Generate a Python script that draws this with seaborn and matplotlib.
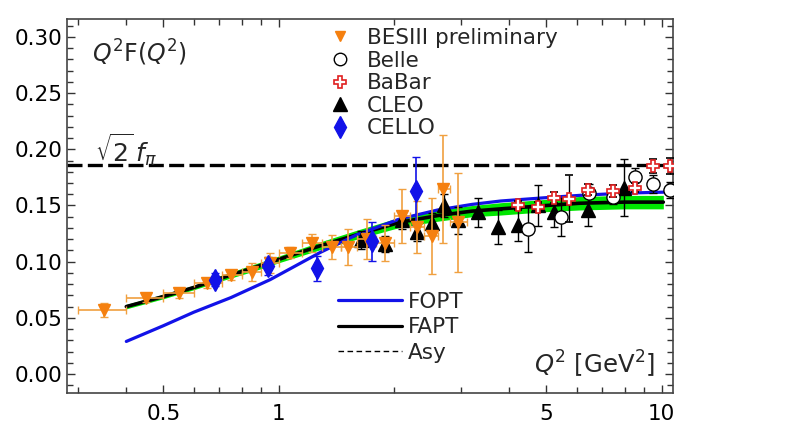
import matplotlib
matplotlib.use('Agg')
import matplotlib.pyplot as plt
from matplotlib.lines import Line2D
from matplotlib.ticker import MultipleLocator, FormatStrFormatter, NullFormatter
import numpy as np
import pandas as pd
import seaborn as sns

'''
Data read off the reference picture
'''
# BESIII preliminary
bes_q = [0.35, 0.45, 0.55, 0.65, 0.75, 0.85, 0.95, 1.07, 1.22, 1.38, 1.52, 1.70, 1.90, 2.10, 2.30, 2.51, 2.69, 2.94]
bes_y = [0.057, 0.068, 0.072, 0.081, 0.088, 0.091, 0.099, 0.108, 0.117, 0.113, 0.113, 0.120, 0.117, 0.141, 0.131, 0.123, 0.165, 0.135]
bes_err = [0.006, 0.004, 0.004, 0.004, 0.004, 0.008, 0.009, 0.005, 0.008, 0.011, 0.016, 0.018, 0.016, 0.024, 0.023, 0.034, 0.048, 0.044]
bes_qlo = [0.30, 0.40, 0.50, 0.60, 0.71, 0.80, 0.90, 1.00, 1.15, 1.30, 1.45, 1.60, 1.80, 2.00, 2.20, 2.40, 2.60, 2.80]
bes_qhi = [0.40, 0.50, 0.60, 0.71, 0.80, 0.90, 1.00, 1.15, 1.30, 1.45, 1.60, 1.80, 2.00, 2.20, 2.40, 2.60, 2.80, 3.10]

# Belle
belle_q = [4.49, 5.47, 6.47, 7.48, 8.50, 9.47, 10.5]
belle_y = [0.129, 0.140, 0.161, 0.158, 0.175, 0.169, 0.164]
belle_err = [0.020, 0.017, 0.008, 0.007, 0.008, 0.008, 0.007]

# BaBar
babar_q = [4.22, 4.74, 5.22, 5.74, 6.44, 7.48, 8.50, 9.47, 10.5]
babar_y = [0.150, 0.149, 0.157, 0.156, 0.164, 0.163, 0.166, 0.185, 0.185]
babar_err = [0.004, 0.004, 0.005, 0.021, 0.005, 0.005, 0.004, 0.006, 0.007]

# CLEO
cleo_q = [1.64, 1.90, 2.10, 2.30, 2.51, 2.70, 2.94, 3.32, 3.74, 4.22, 4.74, 5.22, 6.44, 7.96]
cleo_y = [0.119, 0.116, 0.137, 0.126, 0.134, 0.150, 0.137, 0.144, 0.131, 0.133, 0.150, 0.144, 0.146, 0.166]
cleo_err = [0.008, 0.007, 0.008, 0.008, 0.009, 0.010, 0.012, 0.013, 0.015, 0.015, 0.018, 0.013, 0.014, 0.025]

# CELLO
cello_q = [0.68, 0.94, 1.26, 1.75, 2.28]
cello_y = [0.084, 0.096, 0.094, 0.118, 0.163]
cello_err = [0.006, 0.008, 0.011, 0.017, 0.030]

# theory curves
fapt_q = [0.40, 0.50, 0.60, 0.71, 0.85, 1.00, 1.28, 1.60, 2.07, 2.60, 3.20, 3.80, 5.00, 6.10, 8.00, 10.1]
fapt_y = [0.060, 0.069, 0.077, 0.0855, 0.094, 0.102, 0.114, 0.124, 0.135, 0.141, 0.145, 0.147, 0.150, 0.152, 0.153, 0.153]
fapt_band = [0.002, 0.002, 0.002, 0.0025, 0.003, 0.003, 0.0035, 0.004, 0.0045, 0.005, 0.005, 0.0055, 0.0055, 0.006, 0.006, 0.006]

fopt_q = [0.40, 0.50, 0.60, 0.75, 0.95, 1.28, 1.60, 2.07, 2.60, 3.20, 3.80, 5.00, 6.10, 8.00, 10.5]
fopt_y = [0.029, 0.043, 0.055, 0.068, 0.084, 0.108, 0.124, 0.138, 0.146, 0.151, 0.154, 0.157, 0.159, 0.161, 0.162]

asy_value = 0.186

'''
Plot
'''
sns.set_style('ticks')
plt.rcParams['font.family'] = ['DejaVu Sans']
plt.rcParams['mathtext.fontset'] = 'dejavusans'

fig = plt.figure(figsize=(7.9, 4.32), dpi=100)
ax = fig.add_axes([0.0848, 0.0903, 0.767, 0.8657])

orange = '#f5800f'
orange_err = '#f0a040'
blue = '#1212e8'

# FAPT band + line
fapt = pd.DataFrame({'q': fapt_q, 'y': fapt_y, 'band': fapt_band})
ax.fill_between(fapt['q'], fapt['y'] - fapt['band'], fapt['y'] + fapt['band'],
                color='#00e600', lw=0, zorder=1)
sns.lineplot(data=fapt, x='q', y='y', color='black', lw=2.6, ax=ax,
             estimator=None, sort=False, zorder=2)

fopt = pd.DataFrame({'q': fopt_q, 'y': fopt_y})
sns.lineplot(data=fopt, x='q', y='y', color=blue, lw=2.3, ax=ax,
             estimator=None, sort=False, zorder=2)

ax.axhline(asy_value, color='black', lw=2.4, dashes=(4.5, 1.6), zorder=2)

# data
ax.errorbar(cleo_q, cleo_y, yerr=cleo_err, fmt='^', color='black', ms=10,
            ecolor='black', elinewidth=1, capsize=3, zorder=3)
bq = np.array(bes_q)
ax.errorbar(bes_q, bes_y, yerr=bes_err,
            xerr=[bq - np.array(bes_qlo), np.array(bes_qhi) - bq],
            fmt='v', color=orange, ms=8, ecolor=orange_err, elinewidth=1.2,
            capsize=3, zorder=4)
ax.errorbar(cello_q, cello_y, yerr=cello_err, fmt='d', color=blue, ms=11,
            ecolor=blue, elinewidth=1.2, capsize=3, zorder=4)
ax.errorbar(belle_q, belle_y, yerr=belle_err, fmt='o', mfc='white', mec='black',
            mew=1, ms=9.5, ecolor='black', elinewidth=1, capsize=3, zorder=5)
ax.errorbar(babar_q, babar_y, yerr=babar_err, fmt='P', mfc='white', mec='#e02020',
            mew=1.2, ms=9, ecolor='black', elinewidth=1, capsize=3, zorder=6)

# axes
ax.set_xscale('log')
ax.set_xlim(0.28, 10.7)
ax.set_ylim(-0.0169, 0.316)
ax.set_xticks([0.5, 1, 5, 10])
ax.set_xticklabels(['0.5', '1', '5', '10'])
ax.set_xticks([0.3, 0.4, 0.6, 0.7, 0.8, 0.9, 2, 3, 4, 6, 7, 8, 9], minor=True)
ax.xaxis.set_minor_formatter(NullFormatter())
ax.yaxis.set_major_locator(MultipleLocator(0.05))
ax.yaxis.set_minor_locator(MultipleLocator(0.01))
ax.yaxis.set_major_formatter(FormatStrFormatter('%.2f'))
ax.tick_params(which='both', direction='in', top=True, right=True, colors='#333333',
               labelcolor='black', labelsize=15.5, width=1)
ax.tick_params(which='major', length=6)
ax.tick_params(which='minor', length=4)
ax.tick_params(axis='x', pad=8)
ax.tick_params(axis='y', pad=3.5)
for s in ax.spines.values():
    s.set_color('#444444')
    s.set_linewidth(1.2)
ax.set_xlabel('')
ax.set_ylabel('')

# texts
ax.text(0.041, 0.909, r'$Q^2\mathrm{F}(Q^2)$', transform=ax.transAxes, fontsize=17,
        ha='left', va='center')
ax.text(0.046, 0.65, r'$\sqrt{2}\,f_\pi$', transform=ax.transAxes, fontsize=18,
        ha='left', va='center')
ax.text(0.970, 0.075, r'$Q^2$ [GeV$^2$]', transform=ax.transAxes, fontsize=17.5,
        ha='right', va='center')

# legends
mark_handles = [
    Line2D([], [], ls='none', marker='v', color=orange, ms=7.5),
    Line2D([], [], ls='none', marker='o', mfc='white', mec='black', ms=9),
    Line2D([], [], ls='none', marker='P', mfc='white', mec='#e02020', mew=1.2, ms=8.5),
    Line2D([], [], ls='none', marker='^', color='black', ms=10),
    Line2D([], [], ls='none', marker='d', color=blue, ms=11),
]
leg1 = ax.legend(mark_handles, ['BESIII preliminary', 'Belle', 'BaBar', 'CLEO', 'CELLO'],
                 loc='upper left', bbox_to_anchor=(0.432, 0.976), frameon=False,
                 fontsize=15.5, handlelength=1.0, handletextpad=0.76,
                 labelspacing=0.12, borderpad=0, borderaxespad=0)
ax.add_artist(leg1)

line_handles = [
    Line2D([], [], color=blue, lw=2.3),
    Line2D([], [], color='black', lw=2.3),
    Line2D([], [], color='black', lw=1, dashes=(4, 2.5)),
]
ax.legend(line_handles, ['FOPT', 'FAPT', 'Asy'], loc='upper left',
          bbox_to_anchor=(0.447, 0.271), frameon=False, fontsize=15.5,
          handlelength=3.0, handletextpad=0.25, labelspacing=0.26,
          borderpad=0, borderaxespad=0)

plt.savefig('out.png', dpi=100)
